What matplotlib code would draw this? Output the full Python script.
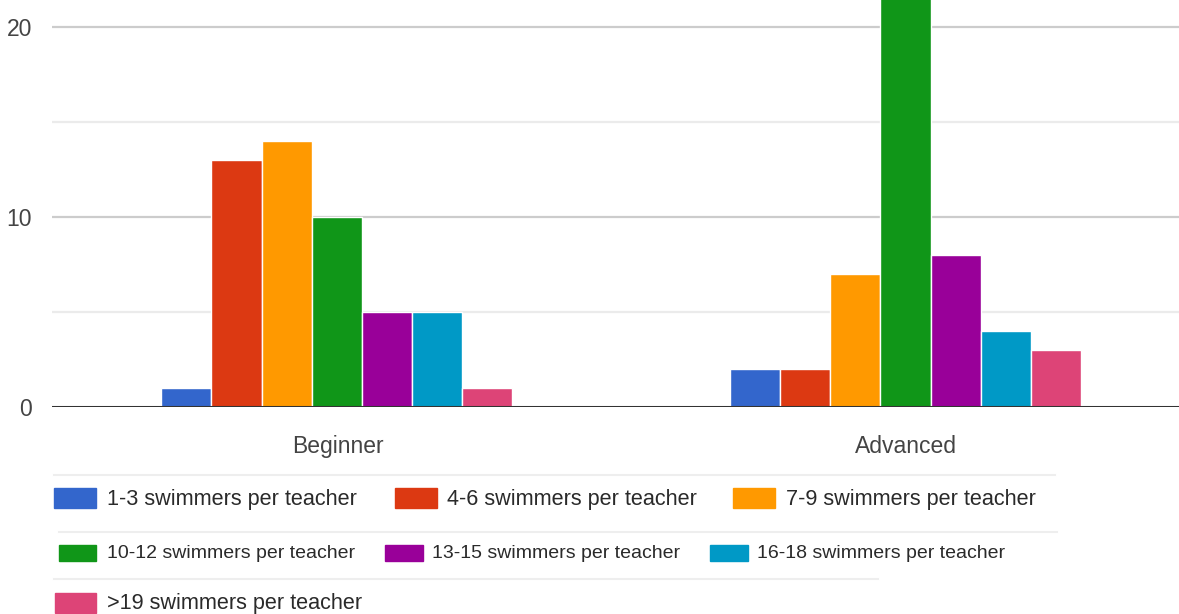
import matplotlib
matplotlib.use('Agg')
import matplotlib.pyplot as plt
from matplotlib.patches import Rectangle
from matplotlib.lines import Line2D
import numpy as np

groups = ['Beginner', 'Advanced']
series = ['1-3 swimmers per teacher', '4-6 swimmers per teacher', '7-9 swimmers per teacher',
          '10-12 swimmers per teacher', '13-15 swimmers per teacher', '16-18 swimmers per teacher',
          '>19 swimmers per teacher']
beginner = [1, 13, 14, 10, 5, 5, 1]
advanced = [2, 2, 7, 23, 8, 4, 3]
colors = ['#3366CC', '#DC3912', '#FF9900', '#109618', '#990099', '#0099C6', '#DD4477']
yticks = [0, 10, 20]

W, H = 1179, 614
fig = plt.figure(figsize=(W / 100, H / 100), dpi=100)
ax = fig.add_axes([52 / W, 1 - 407 / H, 1 - 52 / W, 407 / H])

values = np.array([beginner, advanced])
x = np.arange(len(groups))
slot = 0.0882
n = len(series)
for i in range(n):
    offs = (i - (n - 1) / 2) * slot
    ax.bar(x + offs - 0.001, values[:, i], width=slot, color=colors[i],
           edgecolor='white', linewidth=1.0, zorder=3)

ax.set_xlim(-0.502, 1.48)
ax.set_ylim(0, 21.4)

# grid: labelled lines darker, half-steps lighter
for v in [5, 15]:
    ax.axhline(v, color='#ebebeb', lw=1.6, zorder=1)
for v in [10, 20]:
    ax.axhline(v, color='#cccccc', lw=1.6, zorder=1)
ax.axhline(0, color='#333333', lw=2.2, zorder=4)

for s in ax.spines.values():
    s.set_visible(False)
ax.set_yticks(yticks)
ax.set_xticks(x)
ax.set_xticklabels(groups)
ax.tick_params(length=0, colors='#444444', labelsize=16.5)
ax.tick_params(axis='y', pad=14.5)
ax.tick_params(axis='x', pad=20)
for lab in ax.get_xticklabels() + ax.get_yticklabels():
    lab.set_family(['Liberation Sans Narrow', 'Liberation Sans', 'DejaVu Sans'])


def fx(px):
    return px / W


def fy(py):
    return 1 - py / H


# legend rows: (swatch left, swatch right, text left) per entry
legend_rows = [
    ([0, 1, 2], [(54, 96, 107), (395, 437, 447), (733, 775, 786)], 498, 20, 15.6),
    ([3, 4, 5], [(59, 96, 107), (385, 423, 432), (710, 748, 757)], 553, 16, 14.0),
    ([6], [(55, 96, 107)], 603, 20, 15.6),
]
for idx, pos, yc, sh, fs in legend_rows:
    for k, (x0, x1, tx) in zip(idx, pos):
        fig.add_artist(Rectangle((fx(x0), fy(yc + sh / 2)), fx(x1 - x0), sh / H,
                                 transform=fig.transFigure, color=colors[k]))
        fig.text(fx(tx), fy(yc + 1), series[k], fontsize=fs, color='#2a2a2a',
                 va='center', ha='left', family=['Liberation Sans', 'DejaVu Sans'])

for y0, xa, xb in [(475, 54, 1055), (532, 59, 1057), (579, 54, 878)]:
    fig.add_artist(Line2D([fx(xa), fx(xb)], [fy(y0), fy(y0)], transform=fig.transFigure,
                          color='#eeeeee', lw=1.5))

fig.savefig('out.png', dpi=100, facecolor='white')
